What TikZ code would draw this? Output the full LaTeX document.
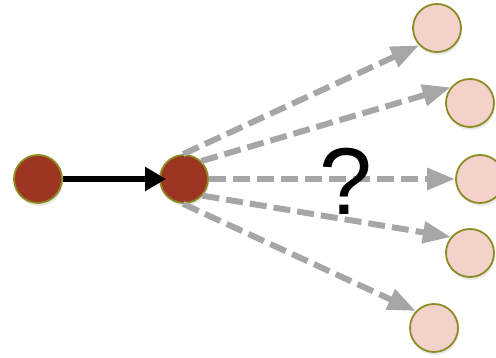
\documentclass[tikz,border=0pt]{standalone}
\usepackage{fontspec}
\setmainfont{Liberation Sans}
\usetikzlibrary{arrows.meta,shadows}
\definecolor{redfill}{HTML}{9C3522}
\definecolor{pinkfill}{HTML}{F3D2CC}
\definecolor{olive}{HTML}{8C8C22}
\definecolor{arrowgray}{HTML}{A6A6A6}
\tikzset{
  dot/.style={circle, minimum size=48pt, inner sep=0pt, line width=1.8pt, draw=olive,
    drop shadow={opacity=0.18, shadow xshift=1pt, shadow yshift=-3pt}},
  reddot/.style={dot, fill=redfill},
  pinkdot/.style={dot, fill=pinkfill},
  flow/.style={line width=6.5pt, black, -{Triangle[length=21pt,width=23pt]}},
  guess/.style={line width=6pt, arrowgray, dash pattern=on 17pt off 7pt,
    -{Triangle[length=28pt,width=21pt]}},
}
\begin{document}
\begin{tikzpicture}[x=1pt,y=-1pt]
\useasboundingbox (0,0) rectangle (496,358);
\node[reddot] (a) at (38,179) {};
\node[reddot] (b) at (184,179) {};
\node[pinkdot] (p1) at (437,28) {};
\node[pinkdot] (p2) at (470,103) {};
\node[pinkdot] (p3) at (480,179) {};
\node[pinkdot] (p4) at (470,253) {};
\node[pinkdot] (p5) at (434,328) {};
\draw[guess] (b.92) -- (p1.224);
\draw[guess] (b.46) -- (p2.141);
\draw[guess] (b.0) -- (p3.180);
\draw[guess] (b.-42) -- (p4.140);
\draw[guess] (b.-92) -- (p5.137);
\draw[flow, shorten >=-7pt] (a) -- (b);
\node[font=\fontsize{95}{95}\selectfont, inner sep=0pt] (q) at (346,181) {?};
\end{tikzpicture}
\end{document}
